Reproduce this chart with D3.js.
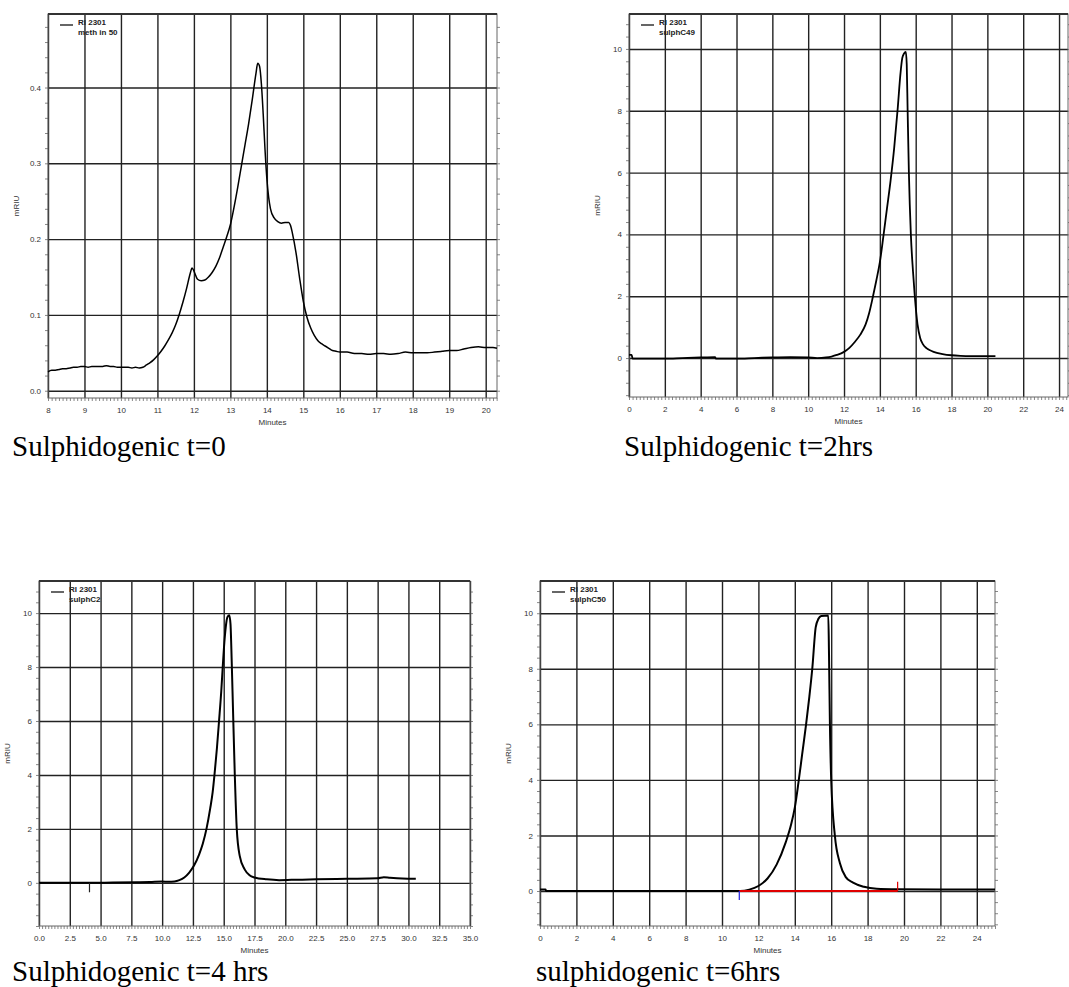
<!DOCTYPE html>
<html>
<head>
<meta charset="utf-8">
<script src="https://cdn.jsdelivr.net/npm/d3@7"></script>
<style>
  body { margin: 0; background: #fff; }
  .tick text { font-family: "Liberation Sans", Arial, sans-serif; font-size: 8px; fill: #333; }
  .axisTitle { font-family: "Liberation Sans", Arial, sans-serif; font-size: 8px; fill: #333; }
  .legend { font-family: "Liberation Sans", Arial, sans-serif; font-size: 8px; font-weight: bold; fill: #222; }
  .caption { font-family: "Liberation Serif", "Times New Roman", serif; font-size: 29px; fill: #000; }
</style>
</head>
<body>
<svg id="chart"></svg>
<script>

// t=0 run (meth in 50)
var t0Minutes = [8.0,8.1,8.2,8.3,8.4,8.5,8.6,8.7,8.8,8.9,9.0,9.1,9.2,9.3,9.4,9.5,9.6,9.7,9.8,9.9,10.0,10.1,10.2,10.3,10.4,10.5,10.6,10.7,10.8,10.9,
    11.0,11.1,11.2,11.3,11.4,11.5,11.6,11.7,11.8,11.9,11.95,12.0,12.05,12.1,12.2,12.3,12.4,12.5,12.6,12.7,12.8,12.9,13.0,13.1,13.2,13.3,13.4,13.5,13.6,13.7,13.75,
    13.8,13.85,13.9,13.95,14.0,14.05,14.1,14.2,14.3,14.4,14.5,14.6,14.65,14.7,14.8,14.9,15.0,15.1,15.2,15.3,15.4,15.5,15.6,15.7,15.8,15.9,16.0,16.2,16.4,16.6,16.8,
    17.0,17.2,17.4,17.6,17.8,18.0,18.2,18.4,18.6,18.8,19.0,19.2,19.4,19.6,19.8,20.0,20.2,20.31]
var t0Signal = [0.025,0.027,0.027,0.028,0.029,0.029,0.030,0.031,0.031,0.032,0.032,0.031,0.032,0.032,0.032,0.032,0.033,0.032,0.032,0.031,0.031,0.031,0.031,0.030,0.031,0.030,0.031,0.034,0.037,0.041,
    0.046,0.052,0.059,0.067,0.076,0.087,0.101,0.117,0.135,0.155,0.162,0.158,0.152,0.147,0.145,0.146,0.150,0.156,0.164,0.175,0.189,0.203,0.219,0.242,0.268,0.296,0.324,0.352,0.384,0.418,0.432,
    0.428,0.405,0.365,0.318,0.280,0.255,0.240,0.228,0.223,0.221,0.222,0.222,0.218,0.208,0.182,0.148,0.118,0.097,0.083,0.073,0.066,0.062,0.059,0.056,0.053,0.052,0.051,0.051,0.049,0.049,0.048,
    0.049,0.049,0.048,0.049,0.051,0.050,0.050,0.050,0.051,0.052,0.053,0.053,0.055,0.057,0.058,0.057,0.057,0.056]

// t=2hrs run (sulphC49)
var t2Minutes = [0,0.15,0.2,1,2,3,4,4.8,4.85,6,7,8,9,10,10.5,11,11.3,11.6,12.0,12.3,12.6,12.9,13.2,13.4,13.6,13.8,14.0,14.2,14.4,14.6,14.8,15.0,15.15,15.25,15.35,15.45,
    15.5,15.55,15.62,15.73,15.85,15.95,16.1,16.25,16.4,16.6,16.8,17.0,17.5,18.0,18.5,19,19.5,20,20.45]
var t2Signal = [0.1,0.1,-0.02,-0.02,-0.02,0.0,0.02,0.03,-0.02,-0.02,0.0,0.02,0.03,0.02,0.0,0.02,0.05,0.1,0.2,0.33,0.52,0.75,1.08,1.45,1.95,2.5,3.1,3.95,4.85,5.75,6.8,8.1,9.2,9.7,9.85,9.9,
    9.5,8.0,6.0,4.0,2.8,2.0,1.1,0.65,0.45,0.32,0.25,0.2,0.13,0.09,0.07,0.06,0.06,0.06,0.06]

// t=4hrs run (sulphC2)
var t4Minutes = [0,2,4,6,8,9,10,10.5,11,11.4,11.8,12.2,12.6,13.0,13.3,13.6,13.9,14.1,14.25,14.45,14.62,14.8,14.92,15.05,15.17,15.3,15.45,15.55,15.65,15.75,15.9,16.06,16.3,16.7,
    17.1,17.5,18.5,19.5,20.5,22.5,25,27.5,28,28.5,29.5,30.6]
var t4Signal = [0,0,0,0.01,0.02,0.03,0.05,0.04,0.05,0.1,0.2,0.38,0.65,1.05,1.45,2.0,2.75,3.35,4.0,5.0,6.0,7.1,8.0,8.9,9.5,9.85,9.92,9.6,8.2,6.5,4.0,2.0,1.0,0.5,
    0.28,0.2,0.13,0.1,0.11,0.13,0.15,0.17,0.21,0.19,0.16,0.15]
var t4Event = {minute: 4.1, from: 0, to: -0.35}

// t=6hrs run (sulphC50)
var t6Minutes = [0,0.3,0.35,5,10,11,11.5,12,12.5,13,13.5,13.8,14.0,14.2,14.4,14.62,14.8,14.96,15.15,15.3,15.45,15.84,15.88,15.93,16.0,16.2,16.48,16.8,17.2,17.8,18.5,19.7,22,25]
var t6Signal = [0.05,0.05,0.0,0.0,0.0,0.0,0.05,0.18,0.45,0.95,1.75,2.4,3.0,3.9,4.9,6.0,7.0,8.0,9.5,9.8,9.9,9.92,8.5,6.0,4.0,2.0,1.0,0.5,0.3,0.15,0.08,0.06,0.05,0.05]
var t6Baseline = [10.95, 19.65]
var t6StartMark = {minute: 10.95, from: 0, to: -0.32}
var t6EndMark = {minute: 19.65, from: 0, to: 0.33}

// tick values
var t0XTicks = [8,9,10,11,12,13,14,15,16,17,18,19,20]
var t0YTicks = [0.0,0.1,0.2,0.3,0.4]
var t2XTicks = [0,2,4,6,8,10,12,14,16,18,20,22,24]
var t2YTicks = [0,2,4,6,8,10]
var t4XTicks = [0,2.5,5,7.5,10,12.5,15,17.5,20,22.5,25,27.5,30,32.5,35]
var t4YTicks = [0,2,4,6,8,10]
var t6XTicks = [0,2,4,6,8,10,12,14,16,18,20,22,24]
var t6YTicks = [0,2,4,6,8,10]

var legendTitle = "RI 2301"
var sampleNames = ["meth in 50","sulphC49","sulphC2","sulphC50"]
var captions = ["Sulphidogenic t=0","Sulphidogenic t=2hrs","Sulphidogenic t=4 hrs","sulphidogenic t=6hrs"]


var screen = {width: 1069, height: 987}

var svg = d3.select("#chart")
    .attr("width", screen.width)
    .attr("height", screen.height)


var drawPanel = function(p)
{
    var width = p.right - p.left
    var height = p.bottom - p.top

    var xScale = d3.scaleLinear()
        .domain(p.xDomain)
        .range([0, width])

    var yScale = d3.scaleLinear()
        .domain(p.yDomain)
        .range([height, 0])

    var target = svg.append("g")
        .attr("transform", "translate(" + p.left + "," + p.top + ")")

    // minor ticks all round the frame
    var xStep = p.xTicks[1] - p.xTicks[0]
    var yStep = p.yTicks[1] - p.yTicks[0]
    var xMinor = d3.range(p.xDomain[0], p.xDomain[1] + 1e-9, xStep / 10)
    var yMinor = d3.range(Math.ceil(p.yDomain[0] / (yStep / 5)) * (yStep / 5), p.yDomain[1], yStep / 5)

    var minor = target.append("g").attr("class", "minor")
    minor.append("g")
        .attr("transform", "translate(0," + height + ")")
        .call(d3.axisBottom(xScale).tickValues(xMinor).tickSize(3).tickFormat(""))
    minor.append("g")
        .call(d3.axisLeft(yScale).tickValues(yMinor).tickSize(3).tickFormat(""))
    minor.append("g")
        .attr("transform", "translate(" + width + ",0)")
        .call(d3.axisRight(yScale).tickValues(yMinor).tickSize(3).tickFormat(""))
    minor.selectAll(".domain").remove()
    minor.selectAll("line").attr("stroke", "#888")

    // grid
    var grid = target.append("g").attr("class", "grid")
    grid.append("g")
        .attr("transform", "translate(0," + height + ")")
        .call(d3.axisBottom(xScale).tickValues(p.xTicks).tickSize(-height).tickFormat(""))
    grid.append("g")
        .call(d3.axisLeft(yScale).tickValues(p.yTicks).tickSize(-width).tickFormat(""))
    grid.selectAll(".domain").remove()
    grid.selectAll("line").attr("stroke", "#222").attr("stroke-width", 1.4)

    // frame
    target.append("rect")
        .attr("width", width)
        .attr("height", height)
        .attr("fill", "none")
        .attr("stroke", "#666")
    target.append("line")
        .attr("x1", 0).attr("x2", width)
        .attr("stroke", "#333")
        .attr("stroke-width", 2)

    // tick labels
    var xLabels = target.append("g")
        .attr("transform", "translate(0," + height + ")")
        .call(d3.axisBottom(xScale).tickValues(p.xTicks).tickSize(0).tickPadding(9).tickFormat(d3.format(p.xFormat)))
    var yLabels = target.append("g")
        .call(d3.axisLeft(yScale).tickValues(p.yTicks).tickSize(0).tickPadding(7).tickFormat(d3.format(p.yFormat)))
    xLabels.select(".domain").remove()
    yLabels.select(".domain").remove()

    target.append("text")
        .attr("class", "axisTitle")
        .attr("text-anchor", "middle")
        .attr("x", width / 2)
        .attr("y", height + 27)
        .text("Minutes")

    target.append("text")
        .attr("class", "axisTitle")
        .attr("text-anchor", "middle")
        .attr("transform", "translate(-29," + (height / 2) + ") rotate(270)")
        .text("mRIU")

    // trace
    var line = d3.line()
        .x(function(d) { return xScale(d[0]) })
        .y(function(d) { return yScale(d[1]) })
        .curve(d3.curveMonotoneX)

    target.append("path")
        .datum(d3.zip(p.minutes, p.signal))
        .attr("fill", "none")
        .attr("stroke", "#000")
        .attr("stroke-width", p.traceWidth)
        .attr("stroke-linejoin", "round")
        .attr("d", line)

    if (p.baseline)
    {
        target.append("line")
            .attr("x1", xScale(p.baseline[0])).attr("x2", xScale(p.baseline[1]))
            .attr("y1", yScale(0)).attr("y2", yScale(0))
            .attr("stroke", "#e00000")
            .attr("stroke-width", 2)
    }

    p.marks.forEach(function(m)
    {
        target.append("line")
            .attr("x1", xScale(m.minute)).attr("x2", xScale(m.minute))
            .attr("y1", yScale(m.from)).attr("y2", yScale(m.to))
            .attr("stroke", m.color)
            .attr("stroke-width", 1.2)
    })

    // legend
    target.append("line")
        .attr("x1", 12).attr("x2", 25)
        .attr("y1", 11).attr("y2", 11)
        .attr("stroke", "#000")
        .attr("stroke-width", 1.2)
    target.append("text")
        .attr("class", "legend")
        .attr("x", 30).attr("y", 11)
        .text(legendTitle)
    target.append("text")
        .attr("class", "legend")
        .attr("x", 30).attr("y", 21)
        .text(p.sample)

    svg.append("text")
        .attr("class", "caption")
        .attr("x", p.captionX)
        .attr("y", p.captionY)
        .text(p.caption)
}


drawPanel({
    left: 48, right: 497, top: 14, bottom: 398,
    xDomain: [8, 20.31], yDomain: [-0.0096, 0.497],
    xTicks: t0XTicks, yTicks: t0YTicks, xFormat: "d", yFormat: ".1f",
    minutes: t0Minutes, signal: t0Signal, marks: [], traceWidth: 1.5,
    sample: sampleNames[0], caption: captions[0], captionX: 12, captionY: 456
})

drawPanel({
    left: 629, right: 1068, top: 14, bottom: 397,
    xDomain: [0, 24.5], yDomain: [-1.26, 11.13],
    xTicks: t2XTicks, yTicks: t2YTicks, xFormat: "d", yFormat: "d",
    minutes: t2Minutes, signal: t2Signal, marks: [], traceWidth: 1.8,
    sample: sampleNames[1], caption: captions[1], captionX: 624, captionY: 456
})

drawPanel({
    left: 39, right: 470, top: 581, bottom: 926,
    xDomain: [0, 35], yDomain: [-1.6, 11.19],
    xTicks: t4XTicks, yTicks: t4YTicks, xFormat: ".1f", yFormat: "d",
    minutes: t4Minutes, signal: t4Signal, traceWidth: 2,
    marks: [{minute: t4Event.minute, from: t4Event.from, to: t4Event.to, color: "#222"}],
    sample: sampleNames[2], caption: captions[2], captionX: 12, captionY: 981
})

drawPanel({
    left: 540, right: 995, top: 581, bottom: 926,
    xDomain: [0, 25], yDomain: [-1.26, 11.16],
    xTicks: t6XTicks, yTicks: t6YTicks, xFormat: "d", yFormat: "d",
    minutes: t6Minutes, signal: t6Signal, baseline: t6Baseline, traceWidth: 2,
    marks: [{minute: t6StartMark.minute, from: t6StartMark.from, to: t6StartMark.to, color: "#2020e0"},
            {minute: t6EndMark.minute, from: t6EndMark.from, to: t6EndMark.to, color: "#e00000"}],
    sample: sampleNames[3], caption: captions[3], captionX: 536, captionY: 981
})

</script>
</body>
</html>
